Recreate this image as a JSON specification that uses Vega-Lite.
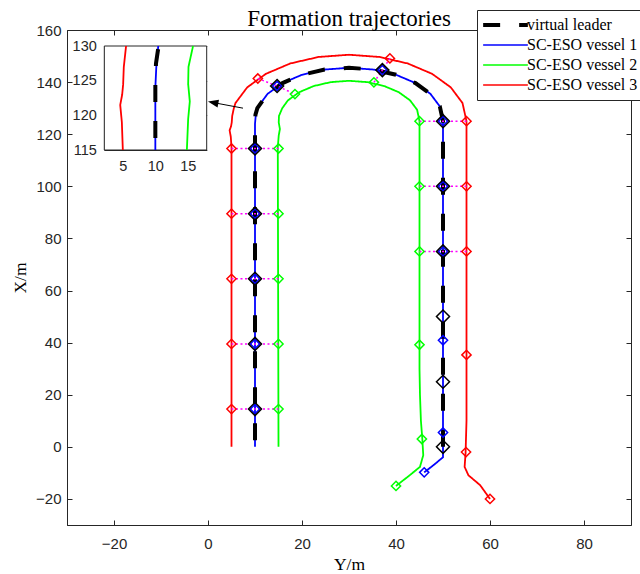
{
  "$schema": "https://vega.github.io/schema/vega-lite/v6.json",
  "width": 564,
  "height": 495,
  "autosize": "none",
  "padding": {"left": 67, "top": 30, "right": 9, "bottom": 49},
  "background": "white",
  "title": {"text": "Formation trajectories", "font": "Liberation Serif", "fontSize": 23, "fontWeight": "normal", "color": "#000000", "anchor": "middle", "frame": "group", "offset": -21},
  "config": {
    "view": {"stroke": "#262626", "strokeWidth": 1},
    "axis": {"grid": false, "domainColor": "#262626", "tickColor": "#262626", "labelColor": "#262626", "labelFont": "Liberation Sans", "labelFontSize": 15, "tickSize": -5, "titleFont": "Liberation Serif", "titleFontSize": 17.5, "titleFontWeight": "normal", "titleColor": "#000000"},
    "legend": {"orient": "none", "legendX": 410, "legendY": -20, "symbolType": "stroke", "symbolSize": 2000, "clipHeight": 20, "labelFont": "Liberation Serif", "labelFontSize": 16, "labelColor": "#000000", "labelLimit": 300, "labelOffset": -2, "padding": 5, "rowPadding": 0, "strokeColor": "#262626", "fillColor": "white", "cornerRadius": 0, "symbolOffset": 0}
  },
  "datasets": {
    "traj": [
      {"series": "virtual leader", "i": 0, "Y": 50, "X": 0},
      {"series": "virtual leader", "i": 1, "Y": 50, "X": 125},
      {"series": "virtual leader", "i": 2, "Y": 49.32, "X": 130.68},
      {"series": "virtual leader", "i": 3, "Y": 47.32, "X": 135.5},
      {"series": "virtual leader", "i": 4, "Y": 44.14, "X": 139.64},
      {"series": "virtual leader", "i": 5, "Y": 40, "X": 142.82},
      {"series": "virtual leader", "i": 6, "Y": 35.18, "X": 144.82},
      {"series": "virtual leader", "i": 7, "Y": 30, "X": 145.5},
      {"series": "virtual leader", "i": 8, "Y": 24.82, "X": 144.82},
      {"series": "virtual leader", "i": 9, "Y": 20, "X": 142.82},
      {"series": "virtual leader", "i": 10, "Y": 15.86, "X": 139.64},
      {"series": "virtual leader", "i": 11, "Y": 12.68, "X": 135.5},
      {"series": "virtual leader", "i": 12, "Y": 10.5, "X": 130},
      {"series": "virtual leader", "i": 13, "Y": 10.1, "X": 127.5},
      {"series": "virtual leader", "i": 14, "Y": 10, "X": 125},
      {"series": "virtual leader", "i": 15, "Y": 10, "X": 0},
      {"series": "SC-ESO vessel 1", "i": 0, "Y": 46, "X": -9.8},
      {"series": "SC-ESO vessel 1", "i": 1, "Y": 48, "X": -7},
      {"series": "SC-ESO vessel 1", "i": 2, "Y": 50, "X": -4},
      {"series": "SC-ESO vessel 1", "i": 3, "Y": 50, "X": 125},
      {"series": "SC-ESO vessel 1", "i": 4, "Y": 49.32, "X": 130.68},
      {"series": "SC-ESO vessel 1", "i": 5, "Y": 47.32, "X": 135.5},
      {"series": "SC-ESO vessel 1", "i": 6, "Y": 44.14, "X": 139.64},
      {"series": "SC-ESO vessel 1", "i": 7, "Y": 40, "X": 142.82},
      {"series": "SC-ESO vessel 1", "i": 8, "Y": 35.18, "X": 144.82},
      {"series": "SC-ESO vessel 1", "i": 9, "Y": 30, "X": 145.5},
      {"series": "SC-ESO vessel 1", "i": 10, "Y": 24.82, "X": 144.82},
      {"series": "SC-ESO vessel 1", "i": 11, "Y": 20, "X": 142.82},
      {"series": "SC-ESO vessel 1", "i": 12, "Y": 15.86, "X": 139.64},
      {"series": "SC-ESO vessel 1", "i": 13, "Y": 12.68, "X": 135.5},
      {"series": "SC-ESO vessel 1", "i": 14, "Y": 10.45, "X": 130},
      {"series": "SC-ESO vessel 1", "i": 15, "Y": 10.15, "X": 127},
      {"series": "SC-ESO vessel 1", "i": 16, "Y": 10, "X": 124},
      {"series": "SC-ESO vessel 1", "i": 17, "Y": 10, "X": 0},
      {"series": "SC-ESO vessel 2", "i": 0, "Y": 40, "X": -15},
      {"series": "SC-ESO vessel 2", "i": 1, "Y": 42.5, "X": -11.5},
      {"series": "SC-ESO vessel 2", "i": 2, "Y": 45.1, "X": -7.7},
      {"series": "SC-ESO vessel 2", "i": 3, "Y": 45.8, "X": -3.2},
      {"series": "SC-ESO vessel 2", "i": 4, "Y": 45.6, "X": 3},
      {"series": "SC-ESO vessel 2", "i": 5, "Y": 45.3, "X": 10},
      {"series": "SC-ESO vessel 2", "i": 6, "Y": 45.1, "X": 20},
      {"series": "SC-ESO vessel 2", "i": 7, "Y": 45, "X": 30},
      {"series": "SC-ESO vessel 2", "i": 8, "Y": 45, "X": 125},
      {"series": "SC-ESO vessel 2", "i": 9, "Y": 44.49, "X": 129.38},
      {"series": "SC-ESO vessel 2", "i": 10, "Y": 42.99, "X": 133},
      {"series": "SC-ESO vessel 2", "i": 11, "Y": 40.61, "X": 136.11},
      {"series": "SC-ESO vessel 2", "i": 12, "Y": 37.5, "X": 138.49},
      {"series": "SC-ESO vessel 2", "i": 13, "Y": 33.88, "X": 139.99},
      {"series": "SC-ESO vessel 2", "i": 14, "Y": 30, "X": 140.5},
      {"series": "SC-ESO vessel 2", "i": 15, "Y": 26.12, "X": 139.99},
      {"series": "SC-ESO vessel 2", "i": 16, "Y": 22.5, "X": 138.49},
      {"series": "SC-ESO vessel 2", "i": 17, "Y": 19.39, "X": 136.11},
      {"series": "SC-ESO vessel 2", "i": 18, "Y": 17.01, "X": 133},
      {"series": "SC-ESO vessel 2", "i": 19, "Y": 15.8, "X": 130},
      {"series": "SC-ESO vessel 2", "i": 20, "Y": 15.1, "X": 127},
      {"series": "SC-ESO vessel 2", "i": 21, "Y": 15.05, "X": 124.5},
      {"series": "SC-ESO vessel 2", "i": 22, "Y": 15.3, "X": 122},
      {"series": "SC-ESO vessel 2", "i": 23, "Y": 15.05, "X": 119.5},
      {"series": "SC-ESO vessel 2", "i": 24, "Y": 14.85, "X": 115},
      {"series": "SC-ESO vessel 2", "i": 25, "Y": 15, "X": 0},
      {"series": "SC-ESO vessel 3", "i": 0, "Y": 60, "X": -20},
      {"series": "SC-ESO vessel 3", "i": 1, "Y": 57.9, "X": -14.7},
      {"series": "SC-ESO vessel 3", "i": 2, "Y": 55.4, "X": -10.9},
      {"series": "SC-ESO vessel 3", "i": 3, "Y": 54.6, "X": -7.7},
      {"series": "SC-ESO vessel 3", "i": 4, "Y": 54.8, "X": -2.5},
      {"series": "SC-ESO vessel 3", "i": 5, "Y": 55, "X": 10},
      {"series": "SC-ESO vessel 3", "i": 6, "Y": 55, "X": 125},
      {"series": "SC-ESO vessel 3", "i": 7, "Y": 54.15, "X": 131.97},
      {"series": "SC-ESO vessel 3", "i": 8, "Y": 51.65, "X": 138},
      {"series": "SC-ESO vessel 3", "i": 9, "Y": 47.68, "X": 143.18},
      {"series": "SC-ESO vessel 3", "i": 10, "Y": 42.5, "X": 147.15},
      {"series": "SC-ESO vessel 3", "i": 11, "Y": 36.47, "X": 149.65},
      {"series": "SC-ESO vessel 3", "i": 12, "Y": 30, "X": 150.5},
      {"series": "SC-ESO vessel 3", "i": 13, "Y": 23.53, "X": 149.65},
      {"series": "SC-ESO vessel 3", "i": 14, "Y": 17.5, "X": 147.15},
      {"series": "SC-ESO vessel 3", "i": 15, "Y": 12.32, "X": 143.18},
      {"series": "SC-ESO vessel 3", "i": 16, "Y": 8.35, "X": 138},
      {"series": "SC-ESO vessel 3", "i": 17, "Y": 5.85, "X": 131.97},
      {"series": "SC-ESO vessel 3", "i": 18, "Y": 5.5, "X": 130},
      {"series": "SC-ESO vessel 3", "i": 19, "Y": 5.15, "X": 127},
      {"series": "SC-ESO vessel 3", "i": 20, "Y": 5.05, "X": 124.5},
      {"series": "SC-ESO vessel 3", "i": 21, "Y": 4.9, "X": 123},
      {"series": "SC-ESO vessel 3", "i": 22, "Y": 4.6, "X": 121.5},
      {"series": "SC-ESO vessel 3", "i": 23, "Y": 4.85, "X": 119},
      {"series": "SC-ESO vessel 3", "i": 24, "Y": 5, "X": 115},
      {"series": "SC-ESO vessel 3", "i": 25, "Y": 5, "X": 0}
    ],
    "marks": [
      {"k": 0, "series": "virtual leader", "Y": 50, "X": 0},
      {"k": 0, "series": "SC-ESO vessel 1", "Y": 46, "X": -9.8},
      {"k": 0, "series": "SC-ESO vessel 2", "Y": 40, "X": -15},
      {"k": 0, "series": "SC-ESO vessel 3", "Y": 60, "X": -20},
      {"k": 1, "series": "virtual leader", "Y": 50, "X": 25},
      {"k": 1, "series": "SC-ESO vessel 1", "Y": 50, "X": 5.5},
      {"k": 1, "series": "SC-ESO vessel 2", "Y": 45.5, "X": 3},
      {"k": 1, "series": "SC-ESO vessel 3", "Y": 54.9, "X": -2},
      {"k": 2, "series": "virtual leader", "Y": 50, "X": 50},
      {"k": 2, "series": "SC-ESO vessel 1", "Y": 50, "X": 40.9},
      {"k": 2, "series": "SC-ESO vessel 2", "Y": 45, "X": 39.2},
      {"k": 2, "series": "SC-ESO vessel 3", "Y": 55, "X": 35.3},
      {"k": 3, "series": "virtual leader", "Y": 50, "X": 75},
      {"k": 3, "series": "SC-ESO vessel 1", "Y": 50, "X": 75},
      {"k": 3, "series": "SC-ESO vessel 2", "Y": 45, "X": 75},
      {"k": 3, "series": "SC-ESO vessel 3", "Y": 55, "X": 75},
      {"k": 4, "series": "virtual leader", "Y": 50, "X": 100},
      {"k": 4, "series": "SC-ESO vessel 1", "Y": 50, "X": 100},
      {"k": 4, "series": "SC-ESO vessel 2", "Y": 45, "X": 100},
      {"k": 4, "series": "SC-ESO vessel 3", "Y": 55, "X": 100},
      {"k": 5, "series": "virtual leader", "Y": 50, "X": 125},
      {"k": 5, "series": "SC-ESO vessel 1", "Y": 50, "X": 125},
      {"k": 5, "series": "SC-ESO vessel 2", "Y": 45, "X": 125},
      {"k": 5, "series": "SC-ESO vessel 3", "Y": 55, "X": 125},
      {"k": 6, "series": "virtual leader", "Y": 37.1, "X": 144.6},
      {"k": 6, "series": "SC-ESO vessel 1", "Y": 37.1, "X": 144.6},
      {"k": 6, "series": "SC-ESO vessel 2", "Y": 35.3, "X": 139.9},
      {"k": 6, "series": "SC-ESO vessel 3", "Y": 38.7, "X": 149.1},
      {"k": 7, "series": "virtual leader", "Y": 14.7, "X": 138.5},
      {"k": 7, "series": "SC-ESO vessel 1", "Y": 14.7, "X": 138.5},
      {"k": 7, "series": "SC-ESO vessel 2", "Y": 18.5, "X": 135.4},
      {"k": 7, "series": "SC-ESO vessel 3", "Y": 10.6, "X": 141.4},
      {"k": 8, "series": "virtual leader", "Y": 10, "X": 114.5},
      {"k": 8, "series": "SC-ESO vessel 1", "Y": 10, "X": 114.5},
      {"k": 8, "series": "SC-ESO vessel 2", "Y": 15, "X": 114.5},
      {"k": 8, "series": "SC-ESO vessel 3", "Y": 5, "X": 114.5},
      {"k": 9, "series": "virtual leader", "Y": 10, "X": 89.5},
      {"k": 9, "series": "SC-ESO vessel 1", "Y": 10, "X": 89.5},
      {"k": 9, "series": "SC-ESO vessel 2", "Y": 15, "X": 89.5},
      {"k": 9, "series": "SC-ESO vessel 3", "Y": 5, "X": 89.5},
      {"k": 10, "series": "virtual leader", "Y": 10, "X": 64.5},
      {"k": 10, "series": "SC-ESO vessel 1", "Y": 10, "X": 64.5},
      {"k": 10, "series": "SC-ESO vessel 2", "Y": 15, "X": 64.5},
      {"k": 10, "series": "SC-ESO vessel 3", "Y": 5, "X": 64.5},
      {"k": 11, "series": "virtual leader", "Y": 10, "X": 39.5},
      {"k": 11, "series": "SC-ESO vessel 1", "Y": 10, "X": 39.5},
      {"k": 11, "series": "SC-ESO vessel 2", "Y": 15, "X": 39.5},
      {"k": 11, "series": "SC-ESO vessel 3", "Y": 5, "X": 39.5},
      {"k": 12, "series": "virtual leader", "Y": 10, "X": 14.5},
      {"k": 12, "series": "SC-ESO vessel 1", "Y": 10, "X": 14.5},
      {"k": 12, "series": "SC-ESO vessel 2", "Y": 15, "X": 14.5},
      {"k": 12, "series": "SC-ESO vessel 3", "Y": 5, "X": 14.5}
    ],
    "inset": [
      {"series": "virtual leader", "i": 0, "Y": 10, "X": 115},
      {"series": "virtual leader", "i": 1, "Y": 10, "X": 125},
      {"series": "virtual leader", "i": 2, "Y": 10.1, "X": 127.5},
      {"series": "virtual leader", "i": 3, "Y": 10.5, "X": 130},
      {"series": "SC-ESO vessel 1", "i": 0, "Y": 10, "X": 115},
      {"series": "SC-ESO vessel 1", "i": 1, "Y": 10, "X": 124},
      {"series": "SC-ESO vessel 1", "i": 2, "Y": 10.15, "X": 127},
      {"series": "SC-ESO vessel 1", "i": 3, "Y": 10.45, "X": 130},
      {"series": "SC-ESO vessel 2", "i": 0, "Y": 14.85, "X": 115},
      {"series": "SC-ESO vessel 2", "i": 1, "Y": 15.05, "X": 119.5},
      {"series": "SC-ESO vessel 2", "i": 2, "Y": 15.3, "X": 122},
      {"series": "SC-ESO vessel 2", "i": 3, "Y": 15.05, "X": 124.5},
      {"series": "SC-ESO vessel 2", "i": 4, "Y": 15.1, "X": 127},
      {"series": "SC-ESO vessel 2", "i": 5, "Y": 15.8, "X": 130},
      {"series": "SC-ESO vessel 3", "i": 0, "Y": 5, "X": 115},
      {"series": "SC-ESO vessel 3", "i": 1, "Y": 4.85, "X": 119},
      {"series": "SC-ESO vessel 3", "i": 2, "Y": 4.6, "X": 121.5},
      {"series": "SC-ESO vessel 3", "i": 3, "Y": 4.9, "X": 123},
      {"series": "SC-ESO vessel 3", "i": 4, "Y": 5.05, "X": 124.5},
      {"series": "SC-ESO vessel 3", "i": 5, "Y": 5.15, "X": 127},
      {"series": "SC-ESO vessel 3", "i": 6, "Y": 5.5, "X": 130}
    ],
    "arrow": [
      {"Y": 7.45, "X": 130.0, "Y2": 1.09, "X2": 132.15}
    ],
    "frame": [
      {"Y": 2.15, "Y2": 17.9, "X": 115, "X2": 130}
    ]
  },
  "layer": [
    {
      "layer": [
        {
          "data": {"name": "traj"},
          "transform": [{"filter": "datum.series != 'virtual leader'"}],
          "mark": {"type": "line", "strokeCap": "butt", "strokeWidth": 1.8},
          "encoding": {
            "x": {"field": "Y", "type": "quantitative", "scale": {"domain": [-30, 90], "nice": false, "zero": false}, "axis": {"orient": "bottom", "values": [-20, 0, 20, 40, 60, 80], "title": "Y/m", "labelPadding": 16, "titlePadding": 4}},
            "y": {"field": "X", "type": "quantitative", "scale": {"domain": [-30, 160], "nice": false, "zero": false}, "axis": {"orient": "left", "values": [-20, 0, 20, 40, 60, 80, 100, 120, 140, 160], "title": "X/m", "labelPadding": 11, "titlePadding": 6}},
            "color": {"field": "series", "type": "nominal", "scale": {"domain": ["virtual leader", "SC-ESO vessel 1", "SC-ESO vessel 2", "SC-ESO vessel 3"], "range": ["#000000", "#0000ff", "#00ff00", "#ff0000"]}, "legend": {"title": null, "encode": {"symbols": {"update": {"strokeWidth": {"signal": "(datum.value == 'virtual leader' ? 4 : 1.6)"}}}}}},
            "strokeDash": {"field": "series", "type": "nominal", "scale": {"domain": ["virtual leader", "SC-ESO vessel 1", "SC-ESO vessel 2", "SC-ESO vessel 3"], "range": [[17, 19], [1, 0], [1, 0], [1, 0]]}, "legend": {"title": null}},
            "order": {"field": "i", "type": "quantitative"}
          }
        },
        {
          "data": {"name": "traj"},
          "transform": [{"filter": "datum.series == 'virtual leader'"}],
          "mark": {"type": "line", "strokeCap": "butt", "strokeWidth": 4},
          "encoding": {
            "x": {"field": "Y", "type": "quantitative"},
            "y": {"field": "X", "type": "quantitative"},
            "color": {"field": "series", "type": "nominal"},
            "strokeDash": {"field": "series", "type": "nominal"},
            "order": {"field": "i", "type": "quantitative"}
          }
        },
        {
          "data": {"name": "marks"},
          "transform": [{"filter": "datum.k >= 3 && datum.series != 'virtual leader'"}],
          "mark": {"type": "line", "color": "#ff00ff", "strokeWidth": 1.5, "strokeDash": [2, 2.5]},
          "encoding": {
            "x": {"field": "Y", "type": "quantitative"},
            "y": {"field": "X", "type": "quantitative"},
            "detail": {"field": "k", "type": "nominal"}
          }
        },
        {
          "data": {"name": "marks"},
          "transform": [{"filter": "datum.series != 'virtual leader'"}],
          "mark": {"type": "point", "shape": "diamond", "filled": false, "size": 85, "strokeWidth": 1.5, "opacity": 1},
          "encoding": {
            "x": {"field": "Y", "type": "quantitative"},
            "y": {"field": "X", "type": "quantitative"},
            "color": {"field": "series", "type": "nominal"}
          }
        },
        {
          "data": {"name": "marks"},
          "transform": [{"filter": "datum.series == 'virtual leader'"}],
          "mark": {"type": "point", "shape": "diamond", "filled": false, "size": 170, "strokeWidth": 1.5, "opacity": 1},
          "encoding": {
            "x": {"field": "Y", "type": "quantitative"},
            "y": {"field": "X", "type": "quantitative"},
            "color": {"field": "series", "type": "nominal"}
          }
        },
        {
          "data": {"name": "arrow"},
          "mark": {"type": "rule", "color": "#000000", "strokeWidth": 1},
          "encoding": {
            "x": {"field": "Y", "type": "quantitative"},
            "y": {"field": "X", "type": "quantitative"},
            "x2": {"field": "Y2"},
            "y2": {"field": "X2"}
          }
        },
        {
          "data": {"name": "arrow"},
          "mark": {"type": "point", "shape": "M-1,0L1,-0.75L1,0.75Z", "filled": true, "color": "#000000", "size": 110, "angle": 10.7, "opacity": 1},
          "encoding": {
            "x": {"field": "Y2", "type": "quantitative"},
            "y": {"field": "X2", "type": "quantitative"}
          }
        }
      ]
    },
    {
      "data": {"name": "traj"},
      "mark": {"type": "point", "opacity": 0},
      "encoding": {
        "x": {"field": "Y", "type": "quantitative", "scale": {"domain": [-30, 90], "nice": false, "zero": false}, "axis": {"orient": "top", "values": [-20, 0, 20, 40, 60, 80], "labels": false, "domain": false, "title": null}},
        "y": {"field": "X", "type": "quantitative", "scale": {"domain": [-30, 160], "nice": false, "zero": false}, "axis": {"orient": "right", "values": [-20, 0, 20, 40, 60, 80, 100, 120, 140, 160], "labels": false, "domain": false, "title": null}}
      }
    },
    {
      "layer": [
        {
          "data": {"name": "frame"},
          "mark": {"type": "rect", "fill": "white", "stroke": "#262626", "strokeWidth": 1},
          "encoding": {
            "x": {"field": "Y", "type": "quantitative", "scale": {"domain": [2.15, 17.9], "range": [37.3, 139.7], "nice": false, "zero": false}, "axis": {"orient": "bottom", "offset": -375, "values": [5, 10, 15], "title": null, "labelFontSize": 14.5, "labelPadding": 14.5}},
            "x2": {"field": "Y2"},
            "y": {"field": "X", "type": "quantitative", "scale": {"domain": [115, 130], "range": [120, 16], "nice": false, "zero": false}, "axis": {"orient": "left", "offset": -37.3, "values": [115, 120, 125, 130], "title": null, "labelFontSize": 14.5, "labelPadding": 13}},
            "y2": {"field": "X2"}
          }
        },
        {
          "data": {"name": "inset"},
          "transform": [{"filter": "datum.series != 'virtual leader'"}],
          "mark": {"type": "line", "strokeCap": "butt", "strokeWidth": 1.8},
          "encoding": {
            "x": {"field": "Y", "type": "quantitative"},
            "y": {"field": "X", "type": "quantitative"},
            "color": {"field": "series", "type": "nominal"},
            "strokeDash": {"field": "series", "type": "nominal"},
            "order": {"field": "i", "type": "quantitative"}
          }
        },
        {
          "data": {"name": "inset"},
          "transform": [{"filter": "datum.series == 'virtual leader'"}],
          "mark": {"type": "line", "strokeCap": "butt", "strokeWidth": 4, "strokeDashOffset": 24},
          "encoding": {
            "x": {"field": "Y", "type": "quantitative"},
            "y": {"field": "X", "type": "quantitative"},
            "color": {"field": "series", "type": "nominal"},
            "strokeDash": {"field": "series", "type": "nominal"},
            "order": {"field": "i", "type": "quantitative"}
          }
        }
      ]
    },
    {
      "data": {"name": "inset"},
      "mark": {"type": "point", "opacity": 0},
      "encoding": {
        "x": {"field": "Y", "type": "quantitative", "scale": {"domain": [2.15, 17.9], "range": [37.3, 139.7], "nice": false, "zero": false}, "axis": {"orient": "top", "offset": -16, "values": [5, 10, 15], "labels": false, "domain": false, "title": null}},
        "y": {"field": "X", "type": "quantitative", "scale": {"domain": [115, 130], "range": [120, 16], "nice": false, "zero": false}, "axis": {"orient": "right", "offset": -424.3, "values": [115, 120, 125, 130], "labels": false, "domain": false, "title": null}}
      }
    }
  ],
  "resolve": {"scale": {"x": "independent", "y": "independent"}}
}
